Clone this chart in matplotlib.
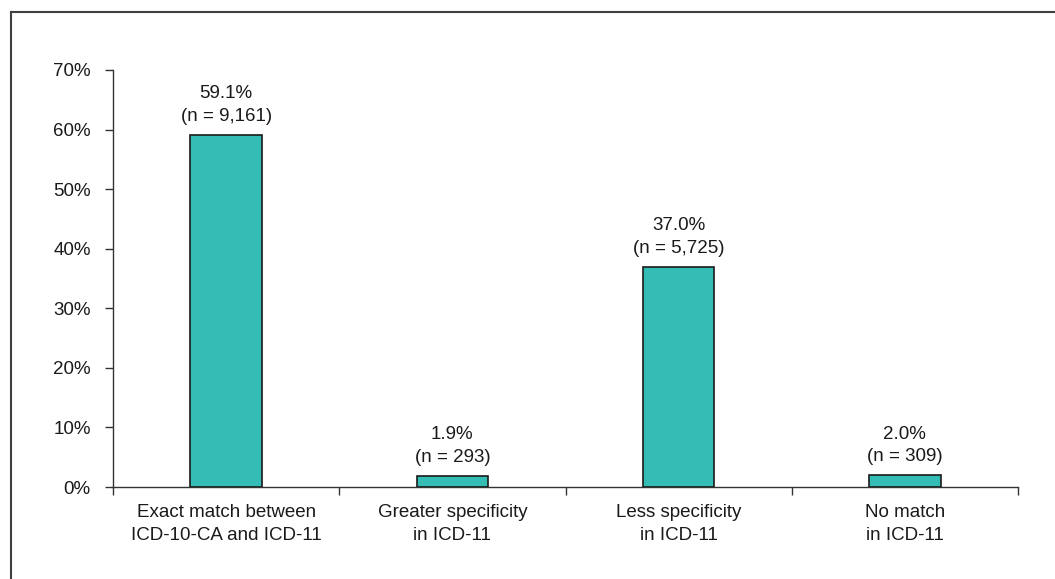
import matplotlib.pyplot as plt
from matplotlib.lines import Line2D

categories = ["Exact match between\nICD-10-CA and ICD-11", "Greater specificity\nin ICD-11",
              "Less specificity\nin ICD-11", "No match\nin ICD-11"]
percents = [59.1, 1.9, 37.0, 2.0]
counts = ["9,161", "293", "5,725", "309"]
yticks = [0, 10, 20, 30, 40, 50, 60, 70]

plt.rcParams["font.family"] = ["Liberation Sans", "DejaVu Sans"]

fig = plt.figure(figsize=(10.55, 5.79), dpi=100)
ax = fig.add_axes([113 / 1055, 1 - 487 / 579, 905 / 1055, 417 / 579])

x = list(range(len(categories)))
ax.bar(x, percents, width=0.315, color="#33bdb5", edgecolor="#1a1a1a", linewidth=1.2, zorder=3)

for xi, p, n in zip(x, percents, counts):
    ax.annotate(f"{p:.1f}%\n(n = {n})", xy=(xi, p), xytext=(0, 7), textcoords="offset points",
                ha="center", va="bottom", fontsize=13.5, color="#1a1a1a", linespacing=1.45)

ax.set_xlim(-0.5, len(categories) - 0.5)
ax.set_ylim(0, 70)
ax.set_yticks(yticks)
ax.set_yticklabels([f"{t}%" for t in yticks])

ax.set_xticks(x)
ax.set_xticklabels(categories, linespacing=1.45)
ax.set_xticks([i - 0.5 for i in range(len(categories) + 1)], minor=True)
ax.tick_params(axis="x", which="major", length=0, pad=12, labelsize=13.5, colors="#1a1a1a")
ax.tick_params(axis="x", which="minor", length=6, width=1, color="#333333")
ax.tick_params(axis="y", length=6, width=1, pad=10, labelsize=13.5, colors="#1a1a1a", color="#333333")

for s in ["top", "right"]:
    ax.spines[s].set_visible(False)
for s in ["left", "bottom"]:
    ax.spines[s].set_color("#333333")
    ax.spines[s].set_linewidth(1)

# outer frame (top and left edges visible)
fig.add_artist(Line2D([11 / 1055, 1.0], [1 - 12 / 579, 1 - 12 / 579], transform=fig.transFigure,
                      color="#404040", linewidth=1.5))
fig.add_artist(Line2D([11 / 1055, 11 / 1055], [0.0, 1 - 12 / 579], transform=fig.transFigure,
                      color="#404040", linewidth=1.5))

fig.savefig("out.png", dpi=100)
